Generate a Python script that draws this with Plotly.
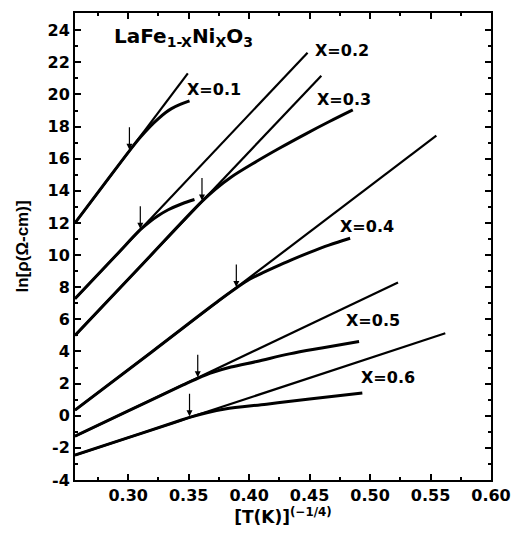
import plotly.graph_objects as go

# Straight-line fits (start/end) for each composition
x_labels = ["X=0.1", "X=0.2", "X=0.3", "X=0.4", "X=0.5", "X=0.6"]
fit_x = [[0.256, 0.3493], [0.256, 0.4483], [0.256, 0.4597], [0.256, 0.5548], [0.256, 0.5231], [0.256, 0.5622]]
fit_y = [[12.0, 21.31], [7.28, 22.6], [5.0, 21.17], [0.35, 17.43], [-1.27, 8.29], [-2.45, 5.13]]

# Measured curves
c1_x = [0.256, 0.28, 0.301, 0.31, 0.318, 0.325, 0.331, 0.3358, 0.343, 0.3507]
c1_y = [12.0, 14.4, 16.49, 17.33, 18.0, 18.5, 18.88, 19.12, 19.38, 19.6]
c2_x = [0.256, 0.29, 0.310, 0.317, 0.325, 0.3331, 0.344, 0.3548]
c2_y = [7.28, 9.99, 11.58, 12.03, 12.46, 12.82, 13.18, 13.46]
c3_x = [0.256, 0.31, 0.361, 0.372, 0.385, 0.4063, 0.425, 0.4469, 0.466, 0.4857]
c3_y = [5.0, 9.29, 13.34, 14.1, 14.85, 15.84, 16.65, 17.55, 18.3, 19.04]
c4_x = [0.256, 0.32, 0.375, 0.3894, 0.40, 0.4063, 0.42, 0.435, 0.4496, 0.466, 0.4835]
c4_y = [0.35, 4.0, 7.17, 7.95, 8.48, 8.72, 9.2, 9.7, 10.15, 10.62, 11.05]
c5_x = [0.256, 0.30, 0.345, 0.3575, 0.37, 0.385, 0.4063, 0.4333, 0.46, 0.4909]
c5_y = [-1.27, 0.3, 1.9, 2.33, 2.7, 3.03, 3.38, 3.85, 4.22, 4.62]
c6_x = [0.256, 0.30, 0.338, 0.3507, 0.365, 0.38, 0.4144, 0.45, 0.4936]
c6_y = [-2.45, -1.36, -0.42, -0.1, 0.19, 0.42, 0.72, 1.04, 1.41]

# Arrow positions (transition points)
arrow_x = [0.301, 0.310, 0.361, 0.3894, 0.3575, 0.3507]
arrow_y = [16.49, 11.58, 13.34, 7.95, 2.33, -0.1]

# Label positions
label_x = [0.3711, 0.4767, 0.4786, 0.4971, 0.5024, 0.5146]
label_y = [20.28, 22.76, 19.66, 11.81, 5.92, 2.40]

curves_x = [c1_x, c2_x, c3_x, c4_x, c5_x, c6_x]
curves_y = [c1_y, c2_y, c3_y, c4_y, c5_y, c6_y]

FONT = "DejaVu Sans, Liberation Sans, Arial, sans-serif"

fig = go.Figure()
for fx, fy in zip(fit_x, fit_y):
    fig.add_trace(go.Scatter(x=fx, y=fy, mode="lines",
                             line=dict(color="black", width=2.2), showlegend=False))
for cx, cy in zip(curves_x, curves_y):
    fig.add_trace(go.Scatter(x=cx, y=cy, mode="lines",
                             line=dict(color="black", width=3, shape="spline", smoothing=1.0),
                             showlegend=False))

font_b = dict(family=FONT, size=16, color="black")

for lx, ly, t in zip(label_x, label_y, x_labels):
    fig.add_annotation(x=lx, y=ly, text="<b>%s</b>" % t, showarrow=False, font=font_b)

for axx, ayy in zip(arrow_x, arrow_y):
    fig.add_annotation(x=axx, y=ayy, ax=0, ay=-25, text="", showarrow=True,
                       arrowhead=2, arrowsize=1, arrowwidth=1.2, arrowcolor="black",
                       standoff=1)

fig.add_annotation(x=0.3454, y=23.59, text="<b>LaFe<sub>1-X</sub>Ni<sub>X</sub>O<sub>3</sub></b>",
                   showarrow=False, font=dict(family=FONT, size=20, color="black"))

axis_common = dict(showline=True, linewidth=2, linecolor="black", mirror="ticks",
                   ticks="inside", ticklen=6, tickwidth=2, tickcolor="black",
                   showgrid=False, zeroline=False,
                   tickfont=dict(family=FONT, size=16, color="black"))

xt = [0.30, 0.35, 0.40, 0.45, 0.50, 0.55, 0.60]
fig.update_xaxes(range=[0.256, 0.60], tickvals=xt,
                 ticktext=["<b>%.2f</b>" % v for v in xt],
                 minor=dict(tickvals=[0.275, 0.325, 0.375, 0.425, 0.475, 0.525, 0.575], ticks="inside", ticklen=3, tickwidth=2, tickcolor="black"),
                 title=dict(text="<b>[T(K)]<sup>(−1/4)</sup></b>", standoff=4,
                            font=dict(family=FONT, size=17, color="black")),
                 **axis_common)
yt = list(range(-4, 25, 2))
fig.update_yaxes(range=[-4, 25.07], tickvals=yt, ticktext=["<b>%d</b>" % v for v in yt],
                 minor=dict(tickvals=list(range(-3, 25, 2)), ticks="inside", ticklen=3, tickwidth=2, tickcolor="black"),
                 title=dict(text="<b>ln[ρ(Ω-cm)]</b>", standoff=15,
                            font=dict(family="Liberation Sans, Arial, sans-serif", size=17, color="black")),
                 **axis_common)

fig.update_layout(width=522, height=539, margin=dict(l=75, r=23, t=11, b=59),
                  plot_bgcolor="white", paper_bgcolor="white")
fig.write_html("out.html", config={"displayModeBar": False},
               post_script="document.body.style.margin='0';document.body.style.overflow='hidden';")
